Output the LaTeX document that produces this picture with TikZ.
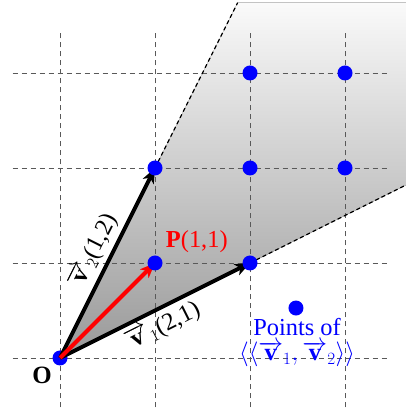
\documentclass[tikz,border=0pt]{standalone}
\usepackage{fontspec}
\setmainfont{Liberation Serif}
\usetikzlibrary{arrows.meta}
\begin{document}
\begin{tikzpicture}[x=95bp,y=95bp,
  gridline/.style={dash pattern=on 5bp off 4bp, black!65, line width=0.9bp},
  bound/.style={dash pattern=on 4bp off 3bp, black, line width=1.3bp},
  vecarrow/.style={line width=4bp, -{Stealth[length=15bp,width=12bp,inset=4bp]}},
  dot/.style={circle, fill=blue, inner sep=0pt, minimum size=15bp},
  lbl/.style={font=\fontsize{24.5}{27}\selectfont, inner sep=1bp},
]
\useasboundingbox (-0.6316,-0.5474) rectangle (3.6421,3.7684);
% key points
\coordinate (O) at (0,0);
\coordinate (v1) at (2,1);
\coordinate (v2) at (1,2);
\coordinate (P) at (1,1);
\coordinate (t2) at (1.87,3.74);
\coordinate (tr) at (3.6421,3.74);
\coordinate (t1) at (3.6421,1.821);
% shaded cone
\fill[top color=gray!4, bottom color=gray!80] (O) -- (t2) -- (tr) -- (t1) -- cycle;
% grid
\foreach \i in {0,1,2,3} {
  \coordinate (gv\i a) at (\i,-0.52);
  \coordinate (gv\i b) at (\i,3.45);
  \coordinate (gh\i a) at (-0.5,\i);
  \coordinate (gh\i b) at (3.45,\i);
  \draw[gridline] (gv\i a) -- (gv\i b);
  \draw[gridline] (gh\i a) -- (gh\i b);
}
% boundary rays
\draw[bound] (v2) -- (t2);
\draw[bound] (v1) -- (t1);
% origin dot
\node[dot] (Odot) at (O) {};
% vectors
\draw[vecarrow, black] (O) -- (v2)
  node[pos=0.52, sloped, above=3bp, lbl] (l2) {$\overrightarrow{\mathbf{v}}_2$(1,2)};
\draw[vecarrow, black] (O) -- (v1)
  node[pos=0.5, sloped, below=2bp, lbl] (l1) {$\overrightarrow{\mathbf{v}}_1$(2,1)};
\draw[vecarrow, red] (O) -- (P);
% lattice dots
\node[dot] (d11) at (1,1) {};
\node[dot] (d12) at (1,2) {};
\node[dot] (d21) at (2,1) {};
\node[dot] (d22) at (2,2) {};
\node[dot] (d23) at (2,3) {};
\node[dot] (d32) at (3,2) {};
\node[dot] (d33) at (3,3) {};
% labels
\node[lbl, font=\fontsize{25}{27}\selectfont\bfseries] (Olbl) at (-0.19,-0.18) {O};
\node[lbl, red] (Plbl) at (1.44,1.22) {\textbf{P}(1,1)};
% legend
\node[dot] (leg) at (2.484,0.526) {};
\node[lbl, blue] (leg1) at (2.495,0.33) {Points of};
\node[lbl, blue] (leg2) at (2.495,0.04) {$\langle\langle\overrightarrow{\mathbf{v}}_1, \overrightarrow{\mathbf{v}}_2\rangle\rangle$};
\end{tikzpicture}
\end{document}
